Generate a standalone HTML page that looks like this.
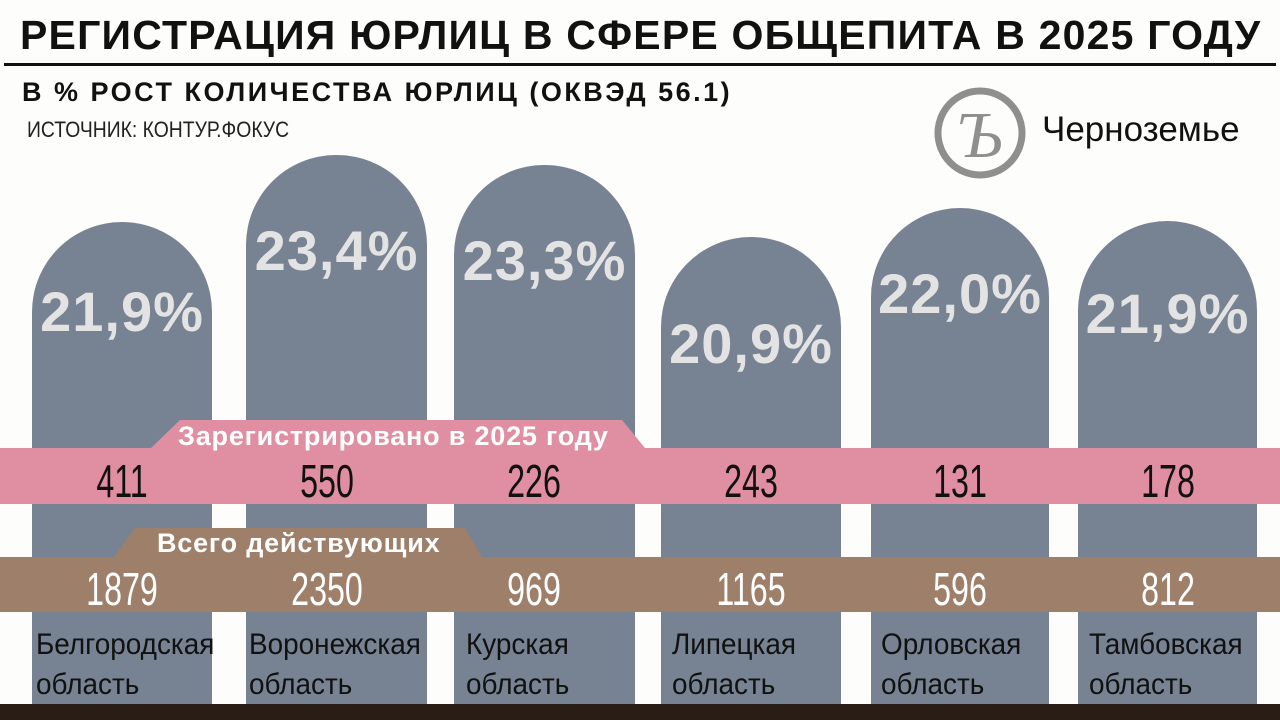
<!DOCTYPE html>
<html><head><meta charset="utf-8"><style>
body{margin:0;width:1280px;height:720px;background:#fdfdfc;position:relative;overflow:hidden;font-family:"Liberation Sans",sans-serif}
.a{position:absolute}
.bar{position:absolute;background:#778292;border-radius:90px 90px 0 0;bottom:15px}
.pct{position:absolute;width:100%;text-align:center;color:#e3e3e3;font-weight:bold;font-size:56px;line-height:1;letter-spacing:1px}
.num{position:absolute;width:180px;text-align:center;font-size:46px;line-height:1;transform:scaleX(0.7)}
.lbl{position:absolute;font-size:30px;line-height:40px;color:#111;transform:scaleX(0.93);transform-origin:left top;white-space:nowrap}
</style></head><body>
<div class="a" style="left:20px;top:12px;font-size:41px;font-weight:bold;color:#111;white-space:nowrap;letter-spacing:1.2px">РЕГИСТРАЦИЯ ЮРЛИЦ В СФЕРЕ ОБЩЕПИТА В 2025 ГОДУ</div>
<div class="a" style="left:4px;top:63px;width:1272px;height:3px;background:#111"></div>
<div class="a" style="left:22px;top:77px;font-size:27px;font-weight:bold;color:#111;white-space:nowrap;letter-spacing:2.5px">В % РОСТ КОЛИЧЕСТВА ЮРЛИЦ (ОКВЭД 56.1)</div>
<div class="a" style="left:27px;top:117px;font-size:22px;color:#222;white-space:nowrap;transform:scaleX(0.88);transform-origin:left top">ИСТОЧНИК: КОНТУР.ФОКУС</div>
<svg class="a" style="left:930px;top:85px" width="100" height="100"><circle cx="50" cy="48" r="42" fill="none" stroke="#8f8f8f" stroke-width="7"/><text x="50" y="72" text-anchor="middle" font-family="Liberation Serif" font-style="italic" font-size="66" fill="#8f8f8f">Ъ</text></svg>
<div class="a" style="left:1042px;top:110px;font-size:35px;color:#111">Черноземье</div>

<div class="bar" style="left:32px;width:180px;top:222px"><div class="pct" style="top:62px">21,9%</div></div>
<div class="bar" style="left:246px;width:181px;top:155px"><div class="pct" style="top:68px">23,4%</div></div>
<div class="bar" style="left:454px;width:181px;top:165px"><div class="pct" style="top:68px">23,3%</div></div>
<div class="bar" style="left:661px;width:180px;top:237px"><div class="pct" style="top:79px">20,9%</div></div>
<div class="bar" style="left:871px;width:178px;top:208px"><div class="pct" style="top:58px">22,0%</div></div>
<div class="bar" style="left:1078px;width:179px;top:221px"><div class="pct" style="top:65px">21,9%</div></div>

<svg class="a" style="left:0;top:0" width="1280" height="720">
<polygon points="0,448 151,448 180,420 622,420 645,448 1280,448 1280,504 0,504" fill="#e08fa2"/>
<polygon points="0,557 114,557 135,528 465,528 482,557 1280,557 1280,612 0,612" fill="#9e7f69"/>
<rect x="0" y="704" width="1280" height="16" fill="#2a1d15"/>
</svg>
<div class="a" style="left:178px;top:421px;font-size:27px;font-weight:bold;color:#fff;white-space:nowrap;letter-spacing:0.8px">Зарегистрировано в 2025 году</div>
<div class="a" style="left:157px;top:528px;font-size:27px;font-weight:bold;color:#fff;white-space:nowrap;letter-spacing:0.8px">Всего действующих</div>

<div class="num" style="left:32px;top:458px;color:#111">411</div>
<div class="num" style="left:237px;top:458px;color:#111">550</div>
<div class="num" style="left:444px;top:458px;color:#111">226</div>
<div class="num" style="left:661px;top:458px;color:#111">243</div>
<div class="num" style="left:870px;top:458px;color:#111">131</div>
<div class="num" style="left:1078px;top:458px;color:#111">178</div>

<div class="num" style="left:32px;top:566px;color:#fff">1879</div>
<div class="num" style="left:237px;top:566px;color:#fff">2350</div>
<div class="num" style="left:444px;top:566px;color:#fff">969</div>
<div class="num" style="left:661px;top:566px;color:#fff">1165</div>
<div class="num" style="left:870px;top:566px;color:#fff">596</div>
<div class="num" style="left:1078px;top:566px;color:#fff">812</div>

<div class="lbl" style="left:36px;top:625px">Белгородская<br>область</div>
<div class="lbl" style="left:249px;top:625px">Воронежская<br>область</div>
<div class="lbl" style="left:466px;top:625px">Курская<br>область</div>
<div class="lbl" style="left:672px;top:625px">Липецкая<br>область</div>
<div class="lbl" style="left:881px;top:625px">Орловская<br>область</div>
<div class="lbl" style="left:1089px;top:625px">Тамбовская<br>область</div>
</body></html>
